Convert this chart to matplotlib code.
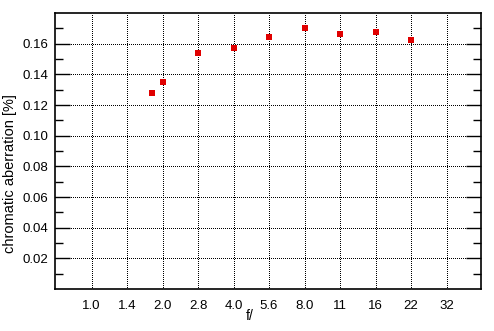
import matplotlib
matplotlib.use("Agg")
import matplotlib.pyplot as plt
import numpy as np
from matplotlib.ticker import FixedLocator, NullLocator

plt.rcParams['font.family'] = ['Liberation Sans', 'DejaVu Sans']

# f-stop tick positions (exact powers of sqrt2) and their labels
tick_stops = [0, 1, 2, 3, 4, 5, 6, 7, 8, 9, 10]
tick_labels = ["1.0", "1.4", "2.0", "2.8", "4.0", "5.6", "8.0", "11", "16", "22", "32"]

# measured apertures (in stops from f/1.0) and chromatic aberration values
data_stops = [1.7, 2, 3, 4, 5, 6, 7, 8, 9]
ca_values = [0.128, 0.135, 0.154, 0.157, 0.1645, 0.170, 0.1663, 0.1676, 0.1624]

y_major = [0.02, 0.04, 0.06, 0.08, 0.10, 0.12, 0.14, 0.16]
y_minor = [0.01, 0.03, 0.05, 0.07, 0.09, 0.11, 0.13, 0.15, 0.17]

fig = plt.figure(figsize=(4.94, 3.31), dpi=100)
ax = fig.add_axes([0.1113, 0.1269, 0.8624, 0.8338])

ax.plot(data_stops, ca_values, linestyle='none', marker='s', markersize=4.2,
        color='#e00000', markeredgewidth=0, zorder=3)

ax.set_xlim(-1.03, 10.97)
ax.set_ylim(0, 0.18)

ax.xaxis.set_major_locator(FixedLocator(tick_stops))
ax.set_xticklabels(tick_labels)
ax.xaxis.set_minor_locator(NullLocator())

ax.yaxis.set_major_locator(FixedLocator(y_major))
ax.yaxis.set_minor_locator(FixedLocator(y_minor))
ax.yaxis.set_major_formatter(plt.FuncFormatter(lambda v, p: f"{v:.2f}"))

ax.tick_params(axis='x', which='both', length=0, pad=8, labelsize=9.5)
ax.tick_params(axis='y', which='major', direction='in', length=11, width=1,
               left=True, right=True, pad=5, labelsize=9.5)
ax.tick_params(axis='y', which='minor', direction='in', length=5.5, width=1,
               left=True, right=True)

ax.grid(True, which='major', color='black', linestyle=(0, (1, 2)),
        linewidth=0.72, antialiased=False)

for s in ax.spines.values():
    s.set_linewidth(1.2)

ax.set_ylabel("chromatic aberration [%]", fontsize=10.5, va='center')
ax.yaxis.set_label_coords(-0.1056, 0.42)
ax.set_xlabel("f/", fontsize=10, va='center')
ax.xaxis.set_label_coords(0.456, -0.097)

fig.savefig("out.png", dpi=100)
